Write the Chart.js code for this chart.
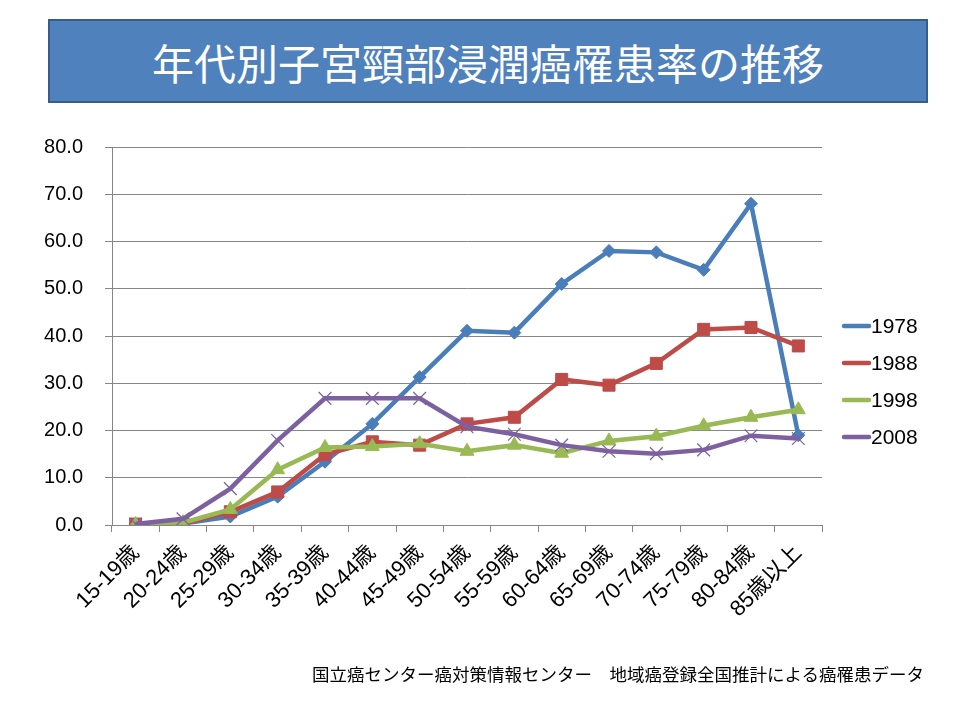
<!DOCTYPE html>
<html lang="ja">
<head>
<meta charset="utf-8">
<title>年代別子宮頸部浸潤癌罹患率の推移</title>
<script src="https://cdn.jsdelivr.net/npm/chart.js@4/dist/chart.umd.min.js"></script>
<style>
  html, body { margin: 0; padding: 0; background: #fff; }
  #wrap { position: relative; width: 960px; height: 720px; overflow: hidden; }
  #title {
    position: absolute; left: 48px; top: 19px; width: 876px; height: 80px;
    background: #4f81bd; border: 2px solid #385d8a;
    color: #fff; font: 42px "Noto Sans CJK JP", sans-serif;
    display: flex; align-items: center; justify-content: center;
  }
  #source {
    position: absolute; left: 312px; top: 661px; width: 630px;
    font: 17.5px "Noto Sans CJK JP", sans-serif; color: #000; white-space: nowrap;
  }
  canvas { position: absolute; left: 0; top: 0; }
</style>
</head>
<body>
<div id="wrap">
  <div id="title">年代別子宮頸部浸潤癌罹患率の推移</div>
  <canvas id="chart" width="960" height="720"></canvas>
  <div id="source">国立癌センター癌対策情報センター　地域癌登録全国推計による癌罹患データ</div>
</div>
<script>
const ageGroups = ['15-19歳', '20-24歳', '25-29歳', '30-34歳', '35-39歳', '40-44歳', '45-49歳',
  '50-54歳', '55-59歳', '60-64歳', '65-69歳', '70-74歳', '75-79歳', '80-84歳', '85歳以上'];
const years = ['1978', '1988', '1998', '2008'];

const rate1978 = [0.2, 0.3, 1.8, 6.0, 13.4, 21.4, 31.3, 41.1, 40.7, 51.0, 58.0, 57.7, 54.0, 68.0, 19.0];
const rate1988 = [0.2, 0.3, 2.8, 7.0, 14.9, 17.6, 16.9, 21.4, 22.8, 30.8, 29.6, 34.2, 41.4, 41.8, 37.9];
const rate1998 = [0.1, 0.5, 3.3, 11.7, 16.4, 16.6, 17.2, 15.6, 16.9, 15.2, 17.8, 18.8, 21.0, 22.8, 24.4];
const rate2008 = [0.2, 1.3, 7.7, 17.9, 26.8, 26.8, 26.8, 20.8, 19.2, 16.9, 15.6, 15.1, 15.9, 18.9, 18.3];

const yTicks = [0, 10, 20, 30, 40, 50, 60, 70, 80];

const colors = ['#4a7ebb', '#be4b48', '#98b954', '#7d60a0'];
const markers = [
  { style: 'rectRot', radius: 6.5 },
  { style: 'rect', radius: 8.5 },
  { style: 'triangle', radius: 8 },
  { style: 'crossRot', radius: 9 }
];
const series = [rate1978, rate1988, rate1998, rate2008];

const fontFamily = '"Liberation Sans", Arial, "Noto Sans CJK JP", sans-serif';

// Excel-style legend: a short line with the marker on it, then the year
const sideLegend = {
  id: 'sideLegend',
  afterDraw(chart) {
    const ctx = chart.ctx;
    chart.data.datasets.forEach((ds, i) => {
      const y = 326 + i * 37;
      ctx.save();
      ctx.strokeStyle = ds.borderColor;
      ctx.lineWidth = 4.5;
      ctx.lineCap = 'round';
      ctx.beginPath();
      ctx.moveTo(844, y);
      ctx.lineTo(869, y);
      ctx.stroke();
      ctx.fillStyle = ds.pointBackgroundColor;
      ctx.strokeStyle = ds.pointBorderColor;
      ctx.lineWidth = ds.pointBorderWidth;
      Chart.helpers.drawPoint(ctx, { pointStyle: ds.pointStyle, rotation: 0, borderWidth: ds.pointBorderWidth },
        856.5, y, ds.pointRadius);
      ctx.fillStyle = '#000';
      ctx.font = '21px ' + fontFamily;
      ctx.textBaseline = 'middle';
      ctx.textAlign = 'left';
      ctx.fillText(ds.label, 871, y + 1);
      ctx.restore();
    });
  }
};

new Chart(document.getElementById('chart').getContext('2d'), {
  type: 'line',
  data: {
    labels: ageGroups,
    datasets: series.map((data, i) => ({
      label: years[i],
      data,
      order: series.length - i,
      borderColor: colors[i],
      borderWidth: 4.5,
      tension: 0,
      pointStyle: markers[i].style,
      pointRadius: markers[i].radius,
      pointBackgroundColor: colors[i],
      pointBorderColor: colors[i],
      pointBorderWidth: markers[i].style === 'crossRot' ? 1.2 : 1
    }))
  },
  options: {
    responsive: false,
    animation: false,
    layout: { padding: { left: 0, top: 147, right: 138, bottom: 45 } },
    plugins: { legend: { display: false }, title: { display: false }, tooltip: { enabled: false } },
    scales: {
      x: {
        offset: true,
        grid: { offset: true, drawOnChartArea: false, drawTicks: true, tickLength: 7, color: '#868686' },
        border: { color: '#868686', width: 1 },
        ticks: { color: '#000', font: { family: fontFamily, size: 22 }, maxRotation: 45, minRotation: 45, padding: 8, autoSkip: false },
        afterFit: s => { s.height = 150; }
      },
      y: {
        min: 0,
        max: 80,
        afterBuildTicks: s => { s.ticks = yTicks.map(v => ({ value: v })); },
        grid: { color: '#868686', tickLength: 7 },
        border: { color: '#868686', width: 1 },
        ticks: { color: '#000', font: { family: fontFamily, size: 20 }, padding: 22, callback: v => Number(v).toFixed(1) },
        afterFit: s => { s.width = 112; }
      }
    }
  },
  plugins: [sideLegend]
});
</script>
</body>
</html>
